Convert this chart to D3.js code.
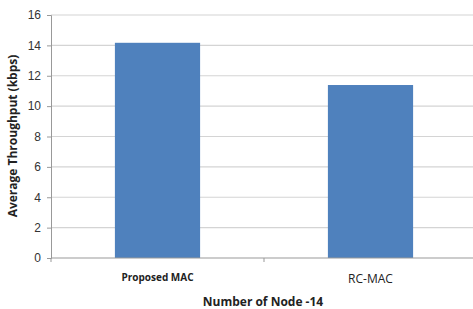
<!DOCTYPE html>
<html>
<head>
<meta charset="utf-8">
<script src="https://cdn.jsdelivr.net/npm/d3@7"></script>
<style>
  body { margin: 0; background: #fff; }
  svg { font-family: "Open Sans", "Liberation Sans", sans-serif; }
</style>
</head>
<body>
<svg id="chart" width="473" height="309"></svg>
<script>
const categories = ["Proposed MAC", "RC-MAC"];
const throughput = [14.17, 11.39];
const yTicks = [0, 2, 4, 6, 8, 10, 12, 14, 16];

const svg = d3.select("#chart");
const LEFT = 51, RIGHT = 477, TOP = 15, BOTTOM = 258;

const x = d3.scaleBand().domain(categories).range([LEFT, RIGHT]).paddingInner(0.6).paddingOuter(0.3);
const y = d3.scaleLinear().domain([0, 16]).range([BOTTOM, TOP]);

// gridlines
svg.append("g")
  .selectAll("line")
  .data(yTicks.filter(d => d > 0))
  .enter()
  .append("line")
  .attr("x1", LEFT).attr("x2", RIGHT)
  .attr("y1", d => y(d)).attr("y2", d => y(d))
  .attr("stroke", "#d4d4d4").attr("stroke-width", 1.2);

// y axis
var yAxis = svg.append("g")
  .attr("transform", `translate(${LEFT},0)`)
  .call(d3.axisLeft(y).tickValues(yTicks).tickSize(4).tickPadding(6));
yAxis.select(".domain").attr("stroke", "#999");
yAxis.selectAll(".tick line").attr("stroke", "#999");
yAxis.selectAll("text").attr("font-size", 12).attr("fill", "#333");

// bars
svg.selectAll("rect.bar")
  .data(throughput)
  .enter()
  .append("rect")
  .attr("class", "bar")
  .attr("x", (d, i) => x(categories[i]))
  .attr("width", x.bandwidth())
  .attr("y", d => y(d))
  .attr("height", d => y(0) - y(d))
  .attr("fill", "#4f81bd");

// x axis line + ticks between categories
svg.append("line")
  .attr("x1", LEFT).attr("x2", RIGHT)
  .attr("y1", BOTTOM).attr("y2", BOTTOM)
  .attr("stroke", "#999");
var step = x.step();
var bounds = [LEFT, (x(categories[0]) + x(categories[1]) + x.bandwidth()) / 2];
svg.selectAll("line.xtick")
  .data(bounds)
  .enter()
  .append("line")
  .attr("class", "xtick")
  .attr("x1", d => d).attr("x2", d => d)
  .attr("y1", BOTTOM).attr("y2", BOTTOM + 4)
  .attr("stroke", "#999");

// category labels
svg.selectAll("text.cat")
  .data(categories)
  .enter()
  .append("text")
  .attr("class", "cat")
  .attr("x", d => x(d) + x.bandwidth() / 2)
  .attr("y", (d, i) => i == 0 ? 281 : 283)
  .attr("text-anchor", "middle")
  .attr("font-size", (d, i) => i == 0 ? 10 : 12)
  .attr("font-weight", (d, i) => i == 0 ? "bold" : "normal")
  .attr("fill", "#222")
  .text(d => d);

// axis titles
svg.append("text")
  .attr("x", 263).attr("y", 306)
  .attr("text-anchor", "middle")
  .attr("font-size", 12).attr("font-weight", "bold").attr("fill", "#222")
  .text("Number of Node -14");

svg.append("text")
  .attr("transform", "translate(17,136) rotate(-90)")
  .attr("text-anchor", "middle")
  .attr("font-size", 12).attr("font-weight", "bold").attr("fill", "#222")
  .text("Average Throughput (kbps)");
</script>
</body>
</html>
